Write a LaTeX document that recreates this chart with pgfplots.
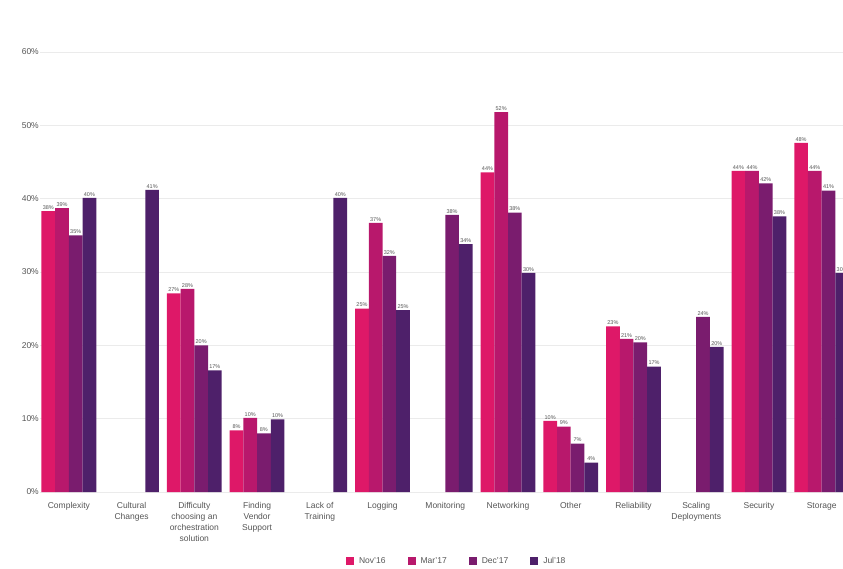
\documentclass[border=0pt]{standalone}
\usepackage{fontspec}
\setmainfont{Liberation Sans}
\usepackage{pgfplots}
\pgfplotsset{compat=1.18}
\usepackage{pgfplotstable}

\definecolor{cNov}{RGB}{222,24,104}
\definecolor{cMar}{RGB}{184,24,108}
\definecolor{cDec}{RGB}{122,28,110}
\definecolor{cJul}{RGB}{78,32,106}
\definecolor{txt}{RGB}{85,85,85}

% x = category index, y = share of respondents (%)
\pgfplotstableread{
x y
0 38.3
2 27.1
3 8.4
5 25.0
7 43.6
8 9.7
9 22.6
11 43.8
12 47.6
}\nov
\pgfplotstableread{
x y
0 38.7
2 27.7
3 10.1
5 36.7
7 51.8
8 8.9
9 20.9
11 43.8
12 43.8
}\mar
\pgfplotstableread{
x y
0 35.0
2 20.0
3 8.0
5 32.2
6 37.8
7 38.1
8 6.6
9 20.4
10 23.9
11 42.1
12 41.1
}\dec
\pgfplotstableread{
x y
0 40.1
1 41.2
2 16.6
3 9.9
4 40.1
5 24.8
6 33.8
7 29.9
8 4.0
9 17.1
10 19.8
11 37.6
12 29.9
}\jul

\begin{document}
\begin{tikzpicture}
\begin{axis}[
    scale only axis,
    width=803pt, height=492pt,
    ybar=0pt,
    bar width=13.7pt,
    xmin=-0.46, xmax=12.34,
    ymin=0, ymax=67.1,
    ytick={0,10,...,60},
    yticklabel={\pgfmathprintnumber{\tick}\%},
    /pgf/number format/assume math mode=true,
    ymajorgrids,
    grid style={draw=black!8, line width=0.8pt},
    axis line style={draw=none},
    tick style={draw=none},
    xtick={0,...,12},
    xticklabels={Complexity, Cultural\\Changes, Difficulty\\choosing an\\orchestration\\solution, Finding\\Vendor\\Support, Lack of\\Training, Logging, Monitoring, Networking, Other, Reliability, Scaling\\Deployments, Security, Storage},
    xticklabel style={font=\fontsize{8.5}{11}\selectfont, text=txt, align=center, inner sep=0pt, yshift=-6pt},
    yticklabel style={font=\fontsize{8.5}{10}\selectfont, text=txt, inner sep=0pt, xshift=-1pt},
    nodes near coords={\pgfmathprintnumber[fixed,precision=0]{\pgfplotspointmeta}\%},
    every node near coord/.append style={font=\fontsize{5.5}{6}\selectfont, text=txt, inner sep=1.5pt},
    legend style={at={(0.519,-0.14)}, anchor=center, draw=none, fill=none,
        font=\fontsize{8.5}{10}\selectfont, text=txt,
        /tikz/every odd column/.append style={column sep=3pt},
        /tikz/every even column/.append style={column sep=20pt}},
    legend columns=4,
    bar style/.style={fill=#1, draw=none,
        legend image code/.code={\fill[##1] (0pt,-4pt) rectangle (8pt,4pt);}},
]
\addplot[bar style=cNov] table[x=x, y=y] {\nov};
\addplot[bar style=cMar] table[x=x, y=y] {\mar};
\addplot[bar style=cDec] table[x=x, y=y] {\dec};
\addplot[bar style=cJul] table[x=x, y=y] {\jul};
\legend{Nov'16, Mar'17, Dec'17, Jul'18}
\end{axis}
\pgfresetboundingbox
\path[use as bounding box] ([xshift=-40pt]current axis.north west) rectangle ([yshift=-76pt]current axis.south east);
\end{tikzpicture}
\end{document}
